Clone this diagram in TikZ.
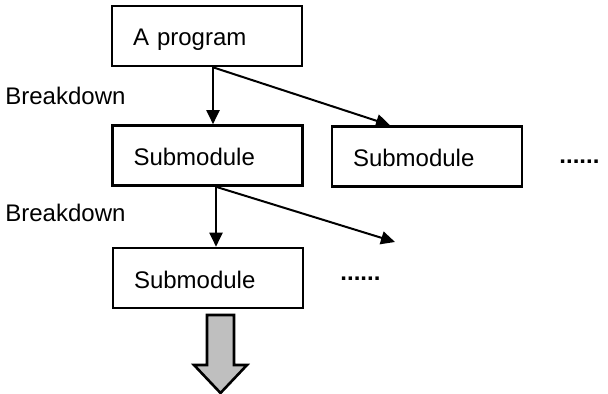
\documentclass[tikz,border=0pt]{standalone}
\usepackage{fontspec}
\setmainfont{Liberation Sans}
\usetikzlibrary{arrows.meta, positioning}
\tikzset{
  modbox/.style={
    rectangle, draw=black, line width=1.3pt, fill=white,
    minimum width=95pt, minimum height=30pt, inner xsep=10.5pt,
    text width=74pt, align=left, text height=1em, text depth=0pt,
    font=\fontsize{12}{14}\selectfont
  },
  lbl/.style={font=\fontsize{12}{14}\selectfont, inner sep=0pt},
  arr/.style={-{Triangle[length=7pt,width=6.5pt]}, line width=1pt},
  bigarr/.style={draw=black, line width=1.3pt, fill=black!25}
}
\begin{document}
\begin{tikzpicture}[x=0.5pt, y=-0.5pt]
\useasboundingbox (0,0) rectangle (608,394);

% Level 1
\node[modbox] (prog) at (207,36) {A program};
\node[lbl, anchor=base west] (brk1) at (5,105) {Breakdown};

% Level 2
\node[modbox] (sub1) at (207.5,155.5) {Submodule};
\node[modbox] (sub2) at (427,156.5) {Submodule};
\node[lbl, anchor=base west] (dots1) at (559,164) {\textbf{......}};
\node[lbl, anchor=base west] (brk2) at (5,222) {Breakdown};

% Level 3
\node[modbox] (sub3) at (208,278) {Submodule};
\node[lbl, anchor=base west] (dots2) at (340,280) {\textbf{......}};
\coordinate (more) at (395,242);

% Arrows
\draw[arr] (prog.south -| 213,0) -- (sub1.north -| 213,0);
\draw[arr] (prog.south -| 213,0) -- (sub2.north -| 390,0);
\draw[arr] (sub1.south -| 216,0) -- (sub3.north -| 216,0);
\draw[arr] (sub1.south -| 216,0) -- (more);

% Continue downwards
\draw[bigarr] (207,315) -- (234,315) -- (234,365) -- (247,365)
  -- (220.5,393) -- (194,365) -- (207,365) -- cycle;

\end{tikzpicture}
\end{document}
